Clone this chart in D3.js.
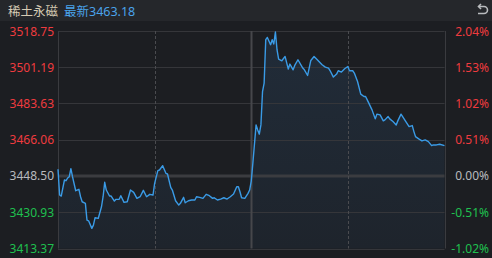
<!DOCTYPE html>
<html><head><meta charset="utf-8">
<script src="https://cdn.jsdelivr.net/npm/d3@7"></script>
<style>
html,body{margin:0;padding:0;background:#1c1e22;}
svg{display:block;font-family:"Noto Sans","Noto Sans CJK SC",sans-serif;}
</style></head><body>
<svg id="c" width="492" height="258"></svg>
<script>
const title = "稀土永磁";
const latestLabel = "最新";
const latestValue = 3463.18;
const prevClose = 3448.50;
const leftTicks = [3518.75, 3501.19, 3483.63, 3466.06, 3448.50, 3430.93, 3413.37];
const rightTicks = ["2.04%", "1.53%", "1.02%", "0.51%", "0.00%", "-0.51%", "-1.02%"];
const minutes = [0,1,2,4,5,6,7,8,9,11,13,14,15,17,18,19,21,22,23,25,27,28,29,30,32,33,35,36,38,39,41,43,45,47,49,51,53,55,57,59,
60,62,63,65,67,68,70,71,73,75,76,78,79,81,83,85,86,88,90,92,94,96,97,99,101,103,105,107,109,111,112,113,114,116,118,119,
120,121,123,124,125,126,127,128,129,130,132,133,134,135,136,137,139,141,143,144,146,147,149,152,153,155,157,159,161,164,166,168,169,171,173,
174,176,178,180,181,183,184,186,188,190,191,193,195,197,198,200,202,203,205,206,208,210,211,213,214,216,218,220,221,222,224,226,228,230,232,233,235,237,240];
const prices = [3451.75,3439.28,3438.79,3446.56,3446.22,3447.53,3448.16,3452.04,3448.16,3441.36,3442.04,3438.45,3436.02,3435.25,3427.14,3426.80,3423.11,3424.71,3428.25,3427.96,3433.60,3438.45,3445.44,3441.70,3438.79,3438.79,3436.36,3437.19,3437.19,3438.94,3435.73,3436.02,3441.70,3440.59,3437.67,3438.45,3441.56,3438.45,3439.62,3439.28,
3444.96,3451.07,3451.41,3453.50,3449.81,3449.47,3443.01,3441.70,3436.51,3434.42,3435.25,3438.16,3435.54,3436.51,3436.85,3436.85,3438.45,3438.16,3437.67,3439.62,3438.94,3437.67,3437.96,3436.85,3437.33,3437.96,3437.33,3438.45,3439.76,3443.31,3443.31,3440.88,3437.96,3437.67,3440.10,3441.70,
3446.07,3454.67,3473.26,3470.83,3468.75,3473.26,3489.43,3493.51,3514.53,3515.64,3512.10,3514.53,3512.44,3518.27,3509.67,3505.16,3504.33,3506.42,3500.30,3502.73,3499.96,3502.05,3504.82,3500.79,3499.96,3497.20,3504.48,3506.42,3504.82,3502.39,3501.27,3500.79,3499.48,3496.42,3497.88,
3499.48,3498.85,3500.45,3501.57,3499.48,3499.48,3498.36,3494.28,3488.17,3487.00,3487.00,3483.80,3480.54,3476.17,3478.46,3478.12,3475.20,3475.69,3477.29,3476.17,3474.86,3473.26,3475.20,3478.46,3477.29,3474.86,3472.44,3472.92,3470.01,3467.58,3466.46,3465.49,3465.98,3465.15,3463.21,3463.55,3463.55,3463.89,3463.18];
const xTicks = [0, 60, 120, 180, 240];

const data = minutes.map((m,i)=>({m, v: prices[i]}));
const svg = d3.select("#c");
const L = 58, R = 444.5, T = 31, B = 248.5;
const x = d3.scaleLinear().domain([0,240]).range([L,R]);
const y = d3.scaleLinear().domain([leftTicks[leftTicks.length-1], leftTicks[0]]).range([B,T]);

// header
svg.append("rect").attr("x",0).attr("y",0).attr("width",492).attr("height",21).attr("fill","#25272b");
svg.append("text").attr("x",8).attr("y",15.5).attr("font-size",12.5).attr("fill","#d6cbb4").text(title);
svg.append("text").attr("x",64).attr("y",15.5).attr("font-size",12.5).attr("fill","#4aa3ea").text(latestLabel + latestValue.toFixed(2));
// return icon
const ic = svg.append("g").attr("stroke","#b9bbbe").attr("stroke-width",1.6).attr("fill","none");
ic.append("path").attr("d","M479,6.5 H484 A3.5,3.5 0 0 1 484,13.5 H478");
ic.append("path").attr("d","M481,4 L478.5,6.5 L481,9");

// gradient
const defs = svg.append("defs");
const g = defs.append("linearGradient").attr("id","ag").attr("x1",0).attr("y1",0).attr("x2",0).attr("y2",1);
g.append("stop").attr("offset","0%").attr("stop-color","#212c39");
g.append("stop").attr("offset","100%").attr("stop-color","#1e242c");

// area
const area = d3.area().x(d=>x(d.m)).y0(B).y1(d=>y(d.v)).curve(d3.curveLinear);
svg.append("path").datum(data).attr("d",area).attr("fill","url(#ag)");

// horizontal grid
leftTicks.forEach((t,i)=>{
  const yy = Math.round(y(t))+0.5;
  const isZero = t===prevClose;
  svg.append("line").attr("x1",L).attr("x2",R).attr("y1",isZero?Math.round(y(t)):yy).attr("y2",isZero?Math.round(y(t)):yy)
    .attr("stroke", isZero?"#3b3c40":"#35363a").attr("stroke-width", isZero?3:1);
});
// vertical grid
xTicks.forEach((t,i)=>{
  const xx = Math.round(x(t))+0.5;
  const ln = svg.append("line").attr("x1",xx).attr("x2",xx).attr("y1",T).attr("y2",B);
  if (i===0 || i===4) ln.attr("stroke","#3a3b3f").attr("stroke-width",1);
  else if (i===2) ln.attr("stroke","#46474b").attr("stroke-width",2);
  else ln.attr("stroke","#4a4b4f").attr("stroke-width",1).attr("stroke-dasharray","3,2");
});

// line
const line = d3.line().x(d=>x(d.m)).y(d=>y(d.v));
svg.append("path").datum(data).attr("d",line).attr("fill","none").attr("stroke","#3a9be6").attr("stroke-width",1.4).attr("stroke-linejoin","round");

// labels
const colorFor = t => t>prevClose ? "#ef3b3f" : (t<prevClose ? "#1fc04f" : "#b8babe");
leftTicks.forEach((t,i)=>{
  svg.append("text").attr("x",54).attr("y",y(t)+4.5).attr("text-anchor","end").attr("font-size",12)
    .attr("fill",colorFor(t)).text(t.toFixed(2));
  svg.append("text").attr("x",489).attr("y",y(t)+4.5).attr("text-anchor","end").attr("font-size",12)
    .attr("fill",colorFor(t)).text(rightTicks[i]);
});
</script></body></html>
